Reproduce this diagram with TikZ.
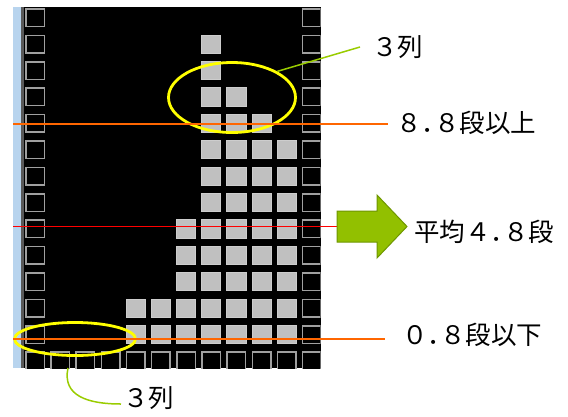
\documentclass[tikz,border=0pt]{standalone}
\usepackage{fontspec}
\newfontfamily\jp{Noto Sans CJK JP}
\usetikzlibrary{shapes.geometric}
\definecolor{panelblue}{RGB}{184,212,238}
\definecolor{cellgrey}{RGB}{192,192,192}
\definecolor{celledge}{RGB}{205,205,205}
\definecolor{wallgrey}{RGB}{160,160,160}
\definecolor{lineorange}{RGB}{255,102,0}
\definecolor{linered}{RGB}{255,0,0}
\definecolor{leafgreen}{RGB}{153,204,0}
\definecolor{arrowfill}{RGB}{146,192,0}
\definecolor{arrowedge}{RGB}{110,150,0}
\definecolor{ringyellow}{RGB}{255,255,0}
\newcommand\halfdot{．\kern-13pt}
\begin{document}
\begin{tikzpicture}[x=1pt,y=-1pt,
  wallcell/.style={draw=wallgrey,line width=1.5pt,fill=black},
  filledcell/.style={draw=celledge,line width=0.8pt,fill=cellgrey},
  ring/.style={ellipse,draw=ringyellow,line width=2.8pt,inner sep=0pt},
  orangeline/.style={draw=lineorange,line width=1.4pt},
  redline/.style={draw=linered,line width=1.4pt},
  leaf/.style={draw=leafgreen,line width=1.5pt},
  lbl/.style={font=\jp\fontsize{25.5}{30}\selectfont,inner sep=0pt,anchor=base west},
  bigarrow/.style={fill=arrowfill,draw=arrowedge,line width=1pt,line join=miter}]
\useasboundingbox (0,0) rectangle (568,416);
% panel
\fill[panelblue] (13,7) rectangle (21,368);
\fill[black!65] (21,7) rectangle (24,368);
\fill[black] (24,7) rectangle (320.5,368);
\begin{scope}
  \clip (21,7) rectangle (320.5,368);
  % walls
  \foreach \r in {0,...,13} {
    \draw[wallcell] ({25.75+25.18*0},{8.95+26.4*\r}) rectangle ++(18.5,17.5);
    \draw[wallcell] ({25.75+25.18*11},{8.95+26.4*\r}) rectangle ++(18.5,17.5);
  }
  \foreach \c in {1,...,10} {
    \draw[wallcell] ({25.75+25.18*\c},{8.95+26.4*13}) rectangle ++(18.5,17.5);
  }
  % stacked blocks
  \foreach \c/\t in {4/11,5/11,6/8,7/1,8/3,9/4,10/5} {
    \foreach \r in {\t,...,12} {
      \draw[filledcell] ({25.4+25.18*\c},{8.6+26.4*\r}) rectangle ++(19.2,18.2);
    }
  }
\end{scope}
% ellipses
\node[ring,minimum width=127pt,minimum height=70pt] (e1) at (232,97.5) {};
\node[ring,minimum width=121pt,minimum height=33pt] (e2) at (75,339) {};
% horizontal lines
\coordinate (o1a) at (13,124);
\coordinate (o1b) at (388,124);
\coordinate (ra) at (13,226.5);
\coordinate (arrtail) at (337,226.5);
\coordinate (o2a) at (13,339);
\coordinate (o2b) at (385,339);
\draw[orangeline] (o1a) -- (o1b);
\draw[redline] (ra) -- (arrtail);
\draw[orangeline] (o2a) -- (o2b);
% big arrow
\draw[bigarrow] (arrtail) -- (337,211) -- (377,211) -- (377,195) -- (407,226.5)
  -- (377,258) -- (377,242) -- (337,242) -- cycle;
% labels
\node[lbl] (t3a) at (372,56.5) {３列};
\node[lbl] (t88) at (396,132.5) {８\halfdot ８段以上};
\node[lbl] (tavg) at (414,241.5) {平均４\halfdot ８段};
\node[lbl] (t08) at (402,344.5) {０\halfdot ８段以下};
\node[lbl] (t3b) at (123,407.5) {３列};
% callout connectors
\coordinate (c1) at (360,47);
\draw[leaf] (e1.30) -- (c1);
\coordinate (b0) at (68,368);
\coordinate (b1) at (121,404);
\draw[leaf] (b0) .. controls (62,396) and (88,404) .. (b1);
\end{tikzpicture}
\end{document}
